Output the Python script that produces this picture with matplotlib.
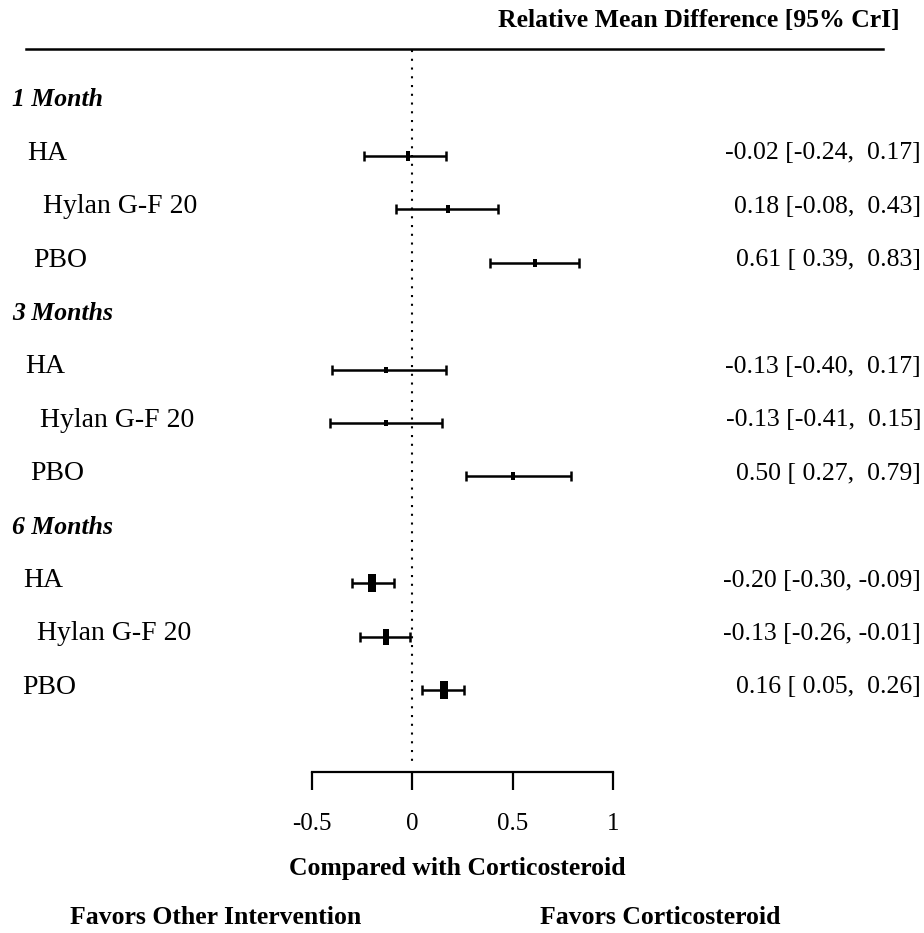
import numpy as np
import matplotlib.pyplot as plt
from matplotlib import transforms
from matplotlib.lines import Line2D

plt.rcParams['font.family'] = ['Liberation Serif', 'DejaVu Serif']

## data
timepoints = ['1 Month', '3 Months', '6 Months']
treatments = ['HA', 'Hylan G-F 20', 'PBO']
mean_diff = [-0.02, 0.18, 0.61, -0.13, -0.13, 0.50, -0.20, -0.13, 0.16]
lower = [-0.24, -0.08, 0.39, -0.40, -0.41, 0.27, -0.30, -0.26, 0.05]
upper = [0.17, 0.43, 0.83, 0.17, 0.15, 0.79, -0.09, -0.01, 0.26]
xticks = [-0.5, 0, 0.5, 1]
xticklabels = ['-0.5', '0', '0.5', '1']

## layout
W, H = 924, 933
label_indent = [[27, 43, 33], [25, 40, 30], [23, 37, 22]]   # px, as in original
axis_row = 11.53

fig = plt.figure(figsize=(W / 100, H / 100), dpi=100)
ax = fig.add_axes([0, 0, 1, 1])
ax.set_xlim(-2.05, 2.547)
ax.set_ylim(14.55, -2.921)
ax.patch.set_visible(False)

# rectangle marker, taller than wide
rect = [(-0.22, -0.5), (0.22, -0.5), (0.22, 0.5), (-0.22, 0.5), (-0.22, -0.5)]

fig_row = transforms.blended_transform_factory(fig.transFigure, ax.transData)

for g, tp in enumerate(timepoints):
    ax.text(12 / W, 4 * g - 1 - 0.05, tp, transform=fig_row, ha='left', va='center',
            fontsize=18.5, fontweight='bold', fontstyle='italic')
    for i, tr in enumerate(treatments):
        k = 3 * g + i
        row = 4 * g + i
        m, lo, hi = mean_diff[k], lower[k], upper[k]
        ax.errorbar([m], [row], xerr=[[m - lo], [hi - m]], fmt='none', ecolor='black',
                    elinewidth=1.8, capsize=3.6, capthick=1.8)
        ax.plot([m], [row], marker=rect, ms=2.8 / (hi - lo), color='black', mew=0, ls='none')
        ax.text(label_indent[g][i] / W, row - 0.05, tr, transform=fig_row, ha='left',
                va='center', fontsize=20)
        ax.text(921 / W, row - 0.05, f'{m:.2f} [{lo:5.2f}, {hi:5.2f}]', transform=fig_row,
                ha='right', va='center', fontsize=18.5)

# line of no effect
ax.plot([0, 0], [-1.985, 11.4], color='black', lw=1.5, ls=(0, (1, 3.2)))

# bottom axis
for s in ['top', 'left', 'right']:
    ax.spines[s].set_visible(False)
ax.spines['bottom'].set_position(('data', axis_row))
ax.spines['bottom'].set_bounds(-0.5, 1)
ax.spines['bottom'].set_linewidth(1.6)
ax.set_yticks([])
ax.set_xticks(xticks)
ax.set_xticklabels(xticklabels)
ax.tick_params(axis='x', direction='out', length=13, width=1.6, labelsize=18, pad=17)

# header
fig.add_artist(Line2D([26 / W, 883 / W], [1 - 49 / H, 1 - 49 / H], color='black', lw=1.8))
fig.text(900 / W, 1 - 21 / H, 'Relative Mean Difference [95% CrI]', ha='right', va='center',
         fontsize=18.5, fontweight='bold')

# footer
fig.text(457 / W, 1 - 868 / H, 'Compared with Corticosteroid', ha='center', va='center',
         fontsize=18.5, fontweight='bold')
fig.text(216 / W, 1 - 918 / H, 'Favors Other Intervention', ha='center', va='center',
         fontsize=18.5, fontweight='bold')
fig.text(660 / W, 1 - 918 / H, 'Favors Corticosteroid', ha='center', va='center',
         fontsize=18.5, fontweight='bold')

fig.savefig('out.png', dpi=100)
